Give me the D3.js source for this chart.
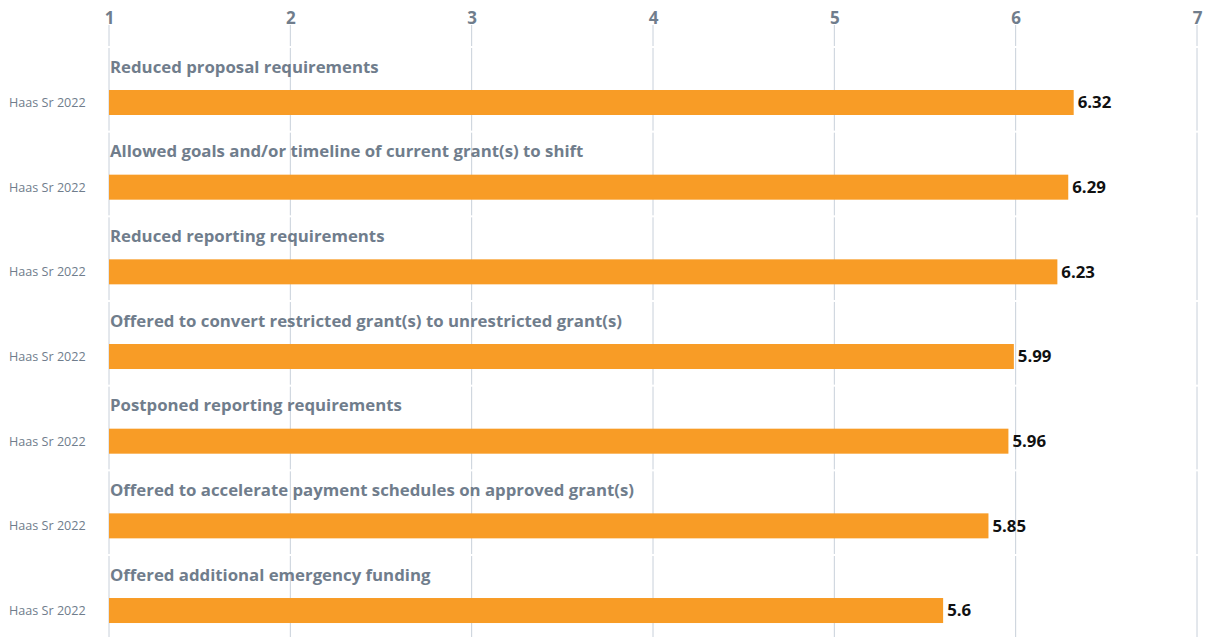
<!DOCTYPE html>
<html>
<head>
<meta charset="utf-8">
<script src="https://cdn.jsdelivr.net/npm/d3@7"></script>
<style>
  html, body { margin: 0; padding: 0; background: #ffffff; }
  svg { display: block; }
</style>
</head>
<body>
<svg id="chart" width="1206" height="637"></svg>
<script>
// Survey items (one group per practice), with the single series shown under each
const categories = [
  "Reduced proposal requirements",
  "Allowed goals and/or timeline of current grant(s) to shift",
  "Reduced reporting requirements",
  "Offered to convert restricted grant(s) to unrestricted grant(s)",
  "Postponed reporting requirements",
  "Offered to accelerate payment schedules on approved grant(s)",
  "Offered additional emergency funding"
];
const seriesName = "Haas Sr 2022";
const values = [6.32, 6.29, 6.23, 5.99, 5.96, 5.85, 5.6];
const tickValues = [1, 2, 3, 4, 5, 6, 7];

const svg = d3.select("#chart");
const W = 1206, H = 637;

const x = d3.scaleLinear().domain([1, 7]).range([109, 1197]);
const rows = d3.scaleBand().domain(categories).range([47, 47 + 7 * 84.67]).padding(0);

const gridColor = "#c8d0da";
const textGrey = "#707d8c";
const barColor = "#f89c26";

// Header gridline segments beneath the tick labels
const grid = svg.append("g");
grid.selectAll("line.head")
  .data(tickValues)
  .join("line")
  .attr("x1", d => x(d)).attr("x2", d => x(d))
  .attr("y1", 25).attr("y2", rows.range()[0] - 1)
  .attr("stroke", gridColor).attr("stroke-width", 1);

// Gridline segments per row band
categories.forEach(c => {
  const y0 = rows(c);
  grid.selectAll(null)
    .data(tickValues)
    .join("line")
    .attr("x1", d => x(d)).attr("x2", d => x(d))
    .attr("y1", y0 + 1).attr("y2", Math.min(y0 + rows.bandwidth() - 1, H))
    .attr("stroke", gridColor).attr("stroke-width", 1);
});

// Top axis tick labels
const axis = d3.axisTop(x).tickValues(tickValues).tickSize(0).tickFormat(d3.format("d"));
const axisG = svg.append("g").attr("transform", "translate(0,12)").call(axis);
axisG.select(".domain").remove();
axisG.selectAll("text")
  .attr("dy", "0.71em")
  .attr("y", 0)
  .attr("fill", textGrey)
  .style("font-family", "'Open Sans', sans-serif")
  .style("font-size", "17px")
  .style("font-weight", "700");

// Row groups
const row = svg.append("g").selectAll("g.row")
  .data(categories.map((c, i) => ({ c, v: values[i] })))
  .join("g")
  .attr("transform", d => `translate(0,${rows(d.c)})`);

row.append("text")
  .attr("x", x(1) + 1)
  .attr("y", 25.5)
  .attr("fill", textGrey)
  .style("font-family", "'Open Sans', sans-serif")
  .style("font-size", "16.8px")
  .style("font-weight", "700")
  .text(d => d.c);

row.append("rect")
  .attr("x", x(1))
  .attr("y", 43)
  .attr("width", d => x(d.v) - x(1))
  .attr("height", 25)
  .attr("fill", barColor);

row.append("text")
  .attr("x", 9)
  .attr("y", 55.5)
  .attr("dy", "0.35em")
  .attr("fill", textGrey)
  .style("font-family", "'Open Sans', sans-serif")
  .style("font-size", "12.6px")
  .text(seriesName);

row.append("text")
  .attr("x", d => x(d.v) + 4)
  .attr("y", 55.5)
  .attr("dy", "0.35em")
  .attr("fill", "#111111")
  .style("font-family", "'Open Sans', sans-serif")
  .style("font-size", "16.8px")
  .style("font-weight", "700")
  .text(d => String(d.v));
</script>
</body>
</html>
